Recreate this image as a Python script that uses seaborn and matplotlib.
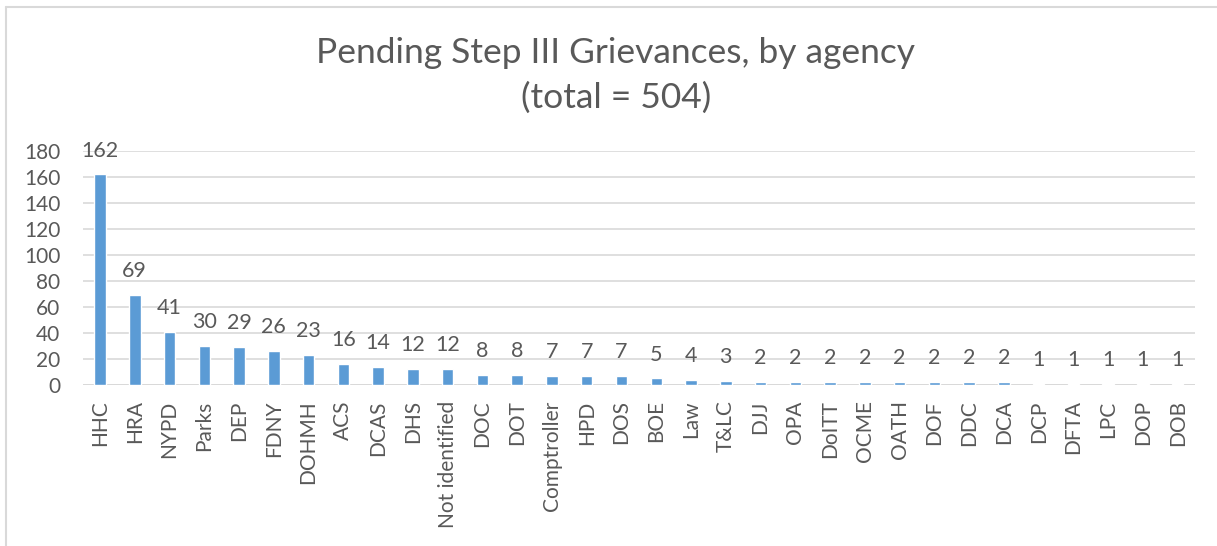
import matplotlib
matplotlib.use("Agg")
import matplotlib.pyplot as plt
import seaborn as sns
import pandas as pd
from matplotlib.lines import Line2D

agencies = ["HHC", "HRA", "NYPD", "Parks", "DEP", "FDNY", "DOHMH", "ACS", "DCAS", "DHS",
            "Not identified", "DOC", "DOT", "Comptroller", "HPD", "DOS", "BOE", "Law", "T&LC",
            "DJJ", "OPA", "DoITT", "OCME", "OATH", "DOF", "DDC", "DCA", "DCP", "DFTA", "LPC",
            "DOP", "DOB"]
counts = [162, 69, 41, 30, 29, 26, 23, 16, 14, 12, 12, 8, 8, 7, 7, 7, 5, 4, 3,
          2, 2, 2, 2, 2, 2, 2, 2, 1, 1, 1, 1, 1]
title_lines = ["Pending Step III Grievances, by agency", "(total = 504)"]
yticks = [0, 20, 40, 60, 80, 100, 120, 140, 160, 180]

sns.set_theme(style="white")
plt.rcParams['font.family'] = ['Lato', 'DejaVu Sans']

TEXT = "#595959"
GRID = "#D9D9D9"
BAR = "#5B9BD5"

df = pd.DataFrame({"agency": agencies, "count": counts})

fig = plt.figure(figsize=(12.17, 5.46), dpi=100)
ax = fig.add_axes([0.0679, 0.2949, 0.9141, 0.4285])

sns.barplot(data=df, x="agency", y="count", color=BAR, width=0.33, ax=ax,
            saturation=1, zorder=3)

ax.set_ylim(0, 180)
ax.set_yticks(yticks)
ax.set_xlim(-0.5, len(agencies) - 0.5)
ax.yaxis.grid(True, color=GRID, linewidth=1.2, zorder=0)
ax.xaxis.grid(False)
for s in ax.spines.values():
    s.set_visible(False)
ax.axhline(0, color=GRID, linewidth=1.4, zorder=2)
ax.set_xlabel("")
ax.set_ylabel("")
ax.tick_params(axis="both", length=0, colors=TEXT, labelsize=15)
ax.tick_params(axis="y", pad=16)
ax.tick_params(axis="x", pad=11)
plt.setp(ax.get_xticklabels(), rotation=90)

ax.bar_label(ax.containers[0], labels=[str(c) for c in counts], padding=10,
             fontsize=15.5, color=TEXT)

fig.text(0.506, 0.885, title_lines[0], ha="center", va="baseline", fontsize=25.5, color=TEXT)
fig.text(0.506, 0.803, title_lines[1], ha="center", va="baseline", fontsize=25.5, color=TEXT)

# chart frame
fig.add_artist(Line2D([0.0049, 0.0049], [0, 0.987], transform=fig.transFigure, color=GRID, linewidth=1.5))
fig.add_artist(Line2D([0.0049, 1.0], [0.987, 0.987], transform=fig.transFigure, color=GRID, linewidth=1.5))

fig.savefig("out.png", dpi=100)
